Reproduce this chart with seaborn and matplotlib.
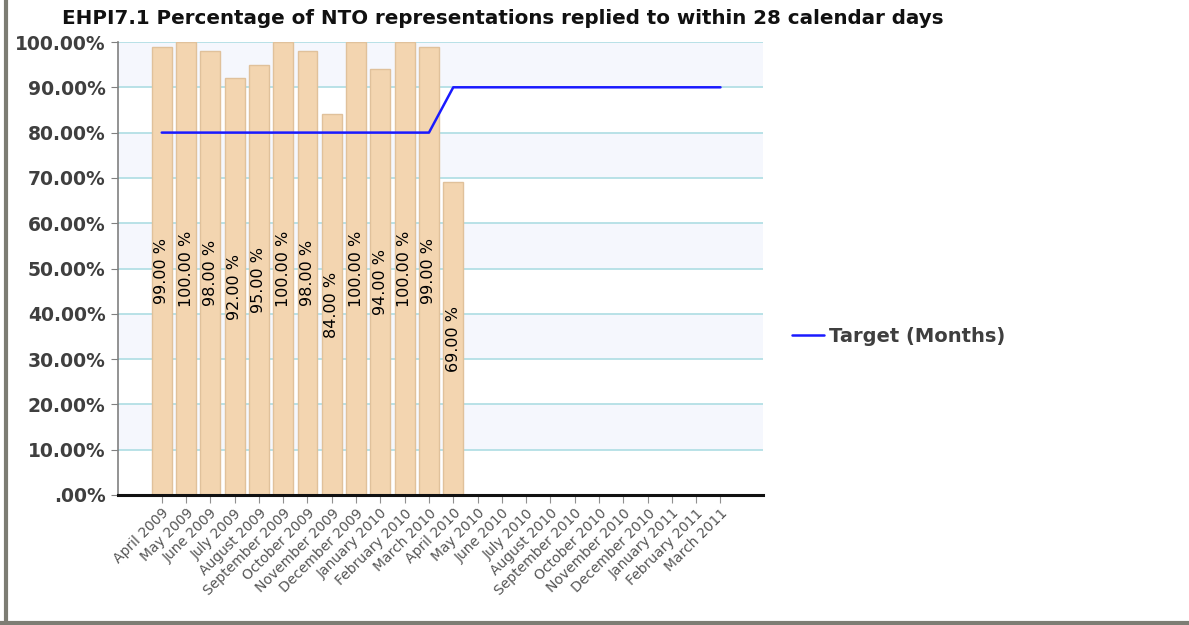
import seaborn as sns
import matplotlib.pyplot as plt
import matplotlib.lines as mlines
import pandas as pd
import numpy as np

months = ["April 2009", "May 2009", "June 2009", "July 2009", "August 2009",
          "September 2009", "October 2009", "November 2009", "December 2009",
          "January 2010", "February 2010", "March 2010", "April 2010", "May 2010",
          "June 2010", "July 2010", "August 2010", "September 2010", "October 2010",
          "November 2010", "December 2010", "January 2011", "February 2011", "March 2011"]
actual = [99, 100, 98, 92, 95, 100, 98, 84, 100, 94, 100, 99, 69,
          np.nan, np.nan, np.nan, np.nan, np.nan, np.nan, np.nan, np.nan, np.nan, np.nan, np.nan]
target = [80] * 12 + [90] * 12
y_ticks = [0, 10, 20, 30, 40, 50, 60, 70, 80, 90, 100]
y_labels = [".00%", "10.00%", "20.00%", "30.00%", "40.00%", "50.00%",
            "60.00%", "70.00%", "80.00%", "90.00%", "100.00%"]

df = pd.DataFrame({"month": months, "actual": actual, "target": target})

sns.set_style("white")
plt.rcParams['font.family'] = ['DejaVu Sans']

fig = plt.figure(figsize=(11.89, 6.25), dpi=100)
ax = fig.add_axes([118 / 1189, 1 - 495 / 625, (763 - 118) / 1189, (495 - 42) / 625])

# alternating bands + grid
for lo in [10, 30, 50, 70, 90]:
    ax.axhspan(lo, lo + 10, color="#f5f7fd", zorder=0, lw=0)
for t in y_ticks[1:]:
    ax.axhline(t, color="#b3dfe5", lw=1.3, zorder=0.5)

sns.barplot(data=df, x="month", y="actual", color="#f3d5b0", edgecolor="#e0c19b",
            linewidth=1, width=0.82, saturation=1, ax=ax, zorder=2)

for i, v in enumerate(actual):
    if not np.isnan(v):
        ax.text(i, v / 2, f"{v:.2f} %", rotation=90, ha="center", va="center",
                fontsize=11.5, color="black", zorder=4)

sns.lineplot(x=np.arange(len(months)), y=target, color="#1a1aff", lw=1.8,
             ax=ax, zorder=3, label="Target (Months)", legend=False)

ax.set_xlim(-1.8, len(months) - 1 + 1.75)
ax.set_ylim(0, 100)
ax.set_yticks(y_ticks)
ax.set_yticklabels(y_labels, fontsize=13.5, fontweight="bold", color="#3f3f3f")
ax.set_xticks(np.arange(len(months)))
ax.set_xticklabels(months, rotation=45, ha="right", rotation_mode="anchor",
                   fontsize=10, color="#555555")
ax.set_xlabel("")
ax.set_ylabel("")
ax.tick_params(axis="y", length=5, color="#808080", direction="out", pad=4, left=True)
ax.tick_params(axis="x", length=6, color="#909090", direction="out", pad=2, bottom=True)

for s in ["top", "right"]:
    ax.spines[s].set_visible(False)
ax.spines["left"].set_color("#808080")
ax.spines["left"].set_linewidth(1.2)
ax.spines["bottom"].set_color("#111111")
ax.spines["bottom"].set_linewidth(2.2)
ax.spines["bottom"].set_zorder(5)

fig.text(62 / 1189, 1 - 18 / 625, "EHPI7.1 Percentage of NTO representations replied to within 28 calendar days",
         ha="left", va="center", fontsize=14.3, fontweight="bold", color="#111111")

handle = mlines.Line2D([], [], color="#1a1aff", lw=1.8)
leg = fig.legend([handle], ["Target (Months)"], loc="center left",
                 bbox_to_anchor=(774 / 1189, 1 - 336 / 625), frameon=False,
                 handlelength=1.65, handletextpad=0.3,
                 prop={"weight": "bold", "size": 14})
for t in leg.get_texts():
    t.set_color("#3f3f3f")

# outer frame (left and bottom)
fig.add_artist(mlines.Line2D([6 / 1189, 6 / 1189], [0, 1], color="#7d7d74", lw=3))
fig.add_artist(mlines.Line2D([0, 1], [2 / 625, 2 / 625], color="#7d7d74", lw=3))

fig.savefig("out.png", dpi=100)
